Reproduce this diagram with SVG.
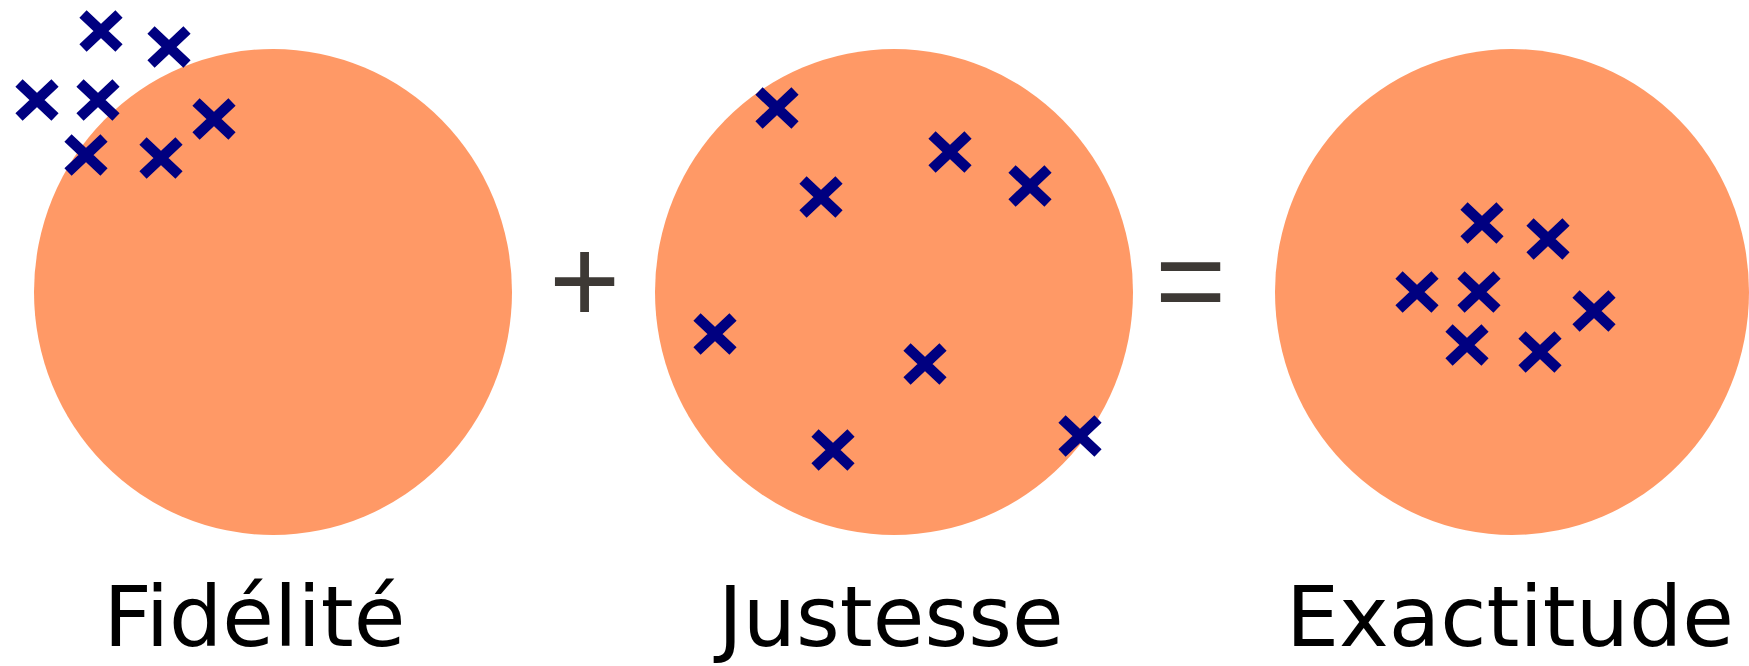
<svg xmlns="http://www.w3.org/2000/svg" xmlns:xlink="http://www.w3.org/1999/xlink" width="1749" height="666" viewBox="0 0 1749 666">
  <style>
    .target { fill: #ff9966; }
    .label { font-family: "DejaVu Sans", sans-serif; font-size: 84px; fill: #000000; }
    .op { font-family: "Liberation Sans", Arial, sans-serif; font-size: 122px; fill: #3d3935; text-anchor: middle; }
    .cross { stroke: #000080; stroke-width: 10.5; fill: none; }
  </style>
  <defs>
    <path id="x" class="cross" d="M-18,-17 L18,17 M18,-17 L-18,17"/>
  </defs>
  <rect width="1749" height="666" fill="#ffffff"/>

  <g id="fidelite">
    <ellipse class="target" cx="273" cy="292" rx="239" ry="243"/>
    <use xlink:href="#x" href="#x" x="101" y="31"/>
    <use xlink:href="#x" href="#x" x="169" y="47"/>
    <use xlink:href="#x" href="#x" x="37" y="100"/>
    <use xlink:href="#x" href="#x" x="98" y="100"/>
    <use xlink:href="#x" href="#x" x="214" y="119"/>
    <use xlink:href="#x" href="#x" x="86" y="155"/>
    <use xlink:href="#x" href="#x" x="161" y="158"/>
    <text class="label" x="103.5" y="646">Fidélité</text>
  </g>

  <g id="plus">
    <text class="op" x="584.5" y="323">+</text>
  </g>

  <g id="justesse">
    <ellipse class="target" cx="894" cy="292" rx="239" ry="243"/>
    <use xlink:href="#x" href="#x" x="777" y="108"/>
    <use xlink:href="#x" href="#x" x="950" y="152"/>
    <use xlink:href="#x" href="#x" x="821" y="197"/>
    <use xlink:href="#x" href="#x" x="1030" y="186"/>
    <use xlink:href="#x" href="#x" x="715" y="334"/>
    <use xlink:href="#x" href="#x" x="925" y="364"/>
    <use xlink:href="#x" href="#x" x="833" y="450"/>
    <use xlink:href="#x" href="#x" x="1080" y="436"/>
    <text class="label" x="718" y="646">Justesse</text>
  </g>

  <g id="egal">
    <text class="op" x="1190.5" y="323">=</text>
  </g>

  <g id="exactitude">
    <ellipse class="target" cx="1512" cy="292" rx="237" ry="243"/>
    <use xlink:href="#x" href="#x" x="1482" y="223"/>
    <use xlink:href="#x" href="#x" x="1548" y="239"/>
    <use xlink:href="#x" href="#x" x="1417" y="292"/>
    <use xlink:href="#x" href="#x" x="1479" y="292"/>
    <use xlink:href="#x" href="#x" x="1594" y="311"/>
    <use xlink:href="#x" href="#x" x="1467" y="345"/>
    <use xlink:href="#x" href="#x" x="1540" y="352"/>
    <text class="label" x="1286" y="646">Exactitude</text>
  </g>
</svg>
